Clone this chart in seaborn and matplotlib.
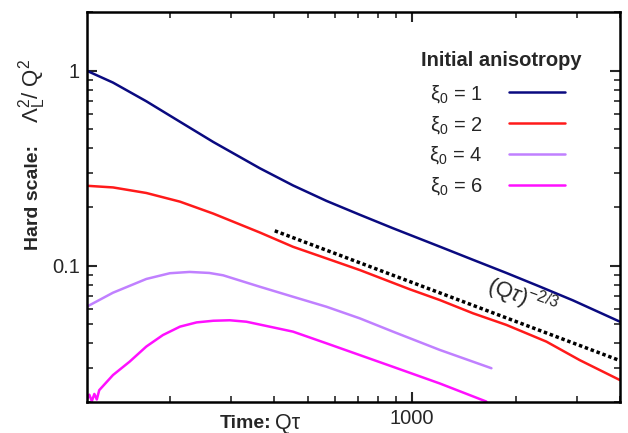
import numpy as np
import pandas as pd
import matplotlib
matplotlib.use("Agg")
import matplotlib.pyplot as plt
import matplotlib.ticker as mticker
import seaborn as sns

# ---- data ----
x_xi1 = [115, 137, 171, 214, 267, 364, 454, 567, 708, 883, 1205, 1504, 1878, 2344, 2925, 4000]
y_xi1 = [1.0, 0.869, 0.697, 0.547, 0.431, 0.316, 0.258, 0.215, 0.1825, 0.1556, 0.1253, 0.1072,
         0.0918, 0.0782, 0.0664, 0.0516]

x_xi2 = [115, 137, 171, 214, 267, 364, 454, 567, 708, 987, 1205, 1504, 1878, 2451, 3059, 4000]
y_xi2 = [0.257, 0.252, 0.236, 0.213, 0.185, 0.148, 0.125, 0.109, 0.095, 0.0757, 0.0667,
         0.057, 0.0497, 0.0408, 0.0328, 0.0259]

x_xi4 = [115, 137, 171, 200, 228, 260, 285, 364, 454, 567, 708, 883, 1205, 1700]
y_xi4 = [0.0616, 0.0727, 0.0855, 0.0915, 0.0929, 0.0918, 0.0893, 0.078, 0.0693, 0.0616, 0.0537,
         0.0459, 0.037, 0.0298]

x_xi6 = [115, 117, 119, 121, 123, 125, 137, 153, 171, 191, 214, 239, 267, 298, 333, 364,
         454, 567, 708, 883, 1205, 1644]
y_xi6 = [0.0205, 0.0218, 0.0202, 0.0220, 0.0206, 0.0230, 0.0275, 0.0322, 0.0385, 0.0441,
         0.0487, 0.0512, 0.0522, 0.0525, 0.0516, 0.0499, 0.0459, 0.040, 0.0348, 0.0303,
         0.0249, 0.0201]

x_ref = [402, 4000]
y_ref = [0.151, 0.0326]

series_labels = ["ξ$_0$ = 1", "ξ$_0$ = 2", "ξ$_0$ = 4", "ξ$_0$ = 6"]
series_colors = ["#0a0a80", "#ff1a1a", "#c080ff", "#ff10ff"]
legend_title = "Initial anisotropy"

x_ticks = [1000]
x_tick_labels = ["1000"]
y_ticks = [0.1, 1]
y_tick_labels = ["0.1", "1"]

# ---- styling ----
sns.set_style("ticks")
plt.rcParams["font.family"] = ["Liberation Sans", "DejaVu Sans"]
plt.rcParams["mathtext.fontset"] = "custom"
plt.rcParams["mathtext.rm"] = "Liberation Sans"
plt.rcParams["mathtext.it"] = "Liberation Sans:italic"
plt.rcParams["mathtext.bf"] = "Liberation Sans:bold"

W, H = 628, 433
fig = plt.figure(figsize=(W / 100, H / 100), dpi=100)
ax_l, ax_r, ax_t, ax_b = 86.7, 620, 12, 402
ax = fig.add_axes([ax_l / W, 1 - ax_b / H, (ax_r - ax_l) / W, (ax_b - ax_t) / H])
ax.set_xscale("log")
ax.set_yscale("log")

def axfrac(px, py):
    return ((px - ax_l) / (ax_r - ax_l), (ax_b - py) / (ax_b - ax_t))

all_x = [x_xi1, x_xi2, x_xi4, x_xi6]
all_y = [y_xi1, y_xi2, y_xi4, y_xi6]
for xs, ys, lab, col in zip(all_x, all_y, series_labels, series_colors):
    df = pd.DataFrame({"x": xs, "y": ys})
    sns.lineplot(data=df, x="x", y="y", ax=ax, color=col, lw=1.8, label=lab,
                 estimator=None, sort=False, legend=False)

df_ref = pd.DataFrame({"x": x_ref, "y": y_ref})
sns.lineplot(data=df_ref, x="x", y="y", ax=ax, color="black", lw=2.5,
             linestyle=(0, (1, 0.8)), estimator=None, legend=False)

ax.text(2093, 0.0691, r"(Q$\tau$)$^{\mathregular{-2/3}}$", rotation=-20, fontsize=16,
        ha="center", va="center")

ax.set_xlim(115, 4000)
ax.set_ylim(0.02, 2.0)

ax.set_xticks(x_ticks, labels=x_tick_labels)
ax.set_yticks(y_ticks, labels=y_tick_labels)
ax.xaxis.set_minor_locator(mticker.LogLocator(base=10, subs=np.arange(2, 10)))
ax.yaxis.set_minor_locator(mticker.LogLocator(base=10, subs=np.arange(2, 10)))
ax.xaxis.set_minor_formatter(mticker.NullFormatter())
ax.yaxis.set_minor_formatter(mticker.NullFormatter())

ax.tick_params(which="both", direction="in", top=True, right=True, labelsize=14.5)
ax.tick_params(which="major", length=7, width=1.5, pad=5)
ax.tick_params(which="minor", length=4, width=1.2)
for sp in ax.spines.values():
    sp.set_linewidth(1.8)
    sp.set_color("black")

ax.set_xlabel("")
ax.set_ylabel("")
# x label: bold "Time:" + normal "Qτ"
fig.text(220 / W, 1 - 423 / H, "Time:", fontsize=14, fontweight="bold",
         ha="left", va="center")
fig.text(275 / W, 1 - 423 / H, "Q\u03c4", fontsize=15.5, ha="left", va="center")
# y label: bold "Hard scale:" + normal Λ_L^2 / Q^2
fig.text(38 / W, 1 - 250 / H, "Hard scale:", fontsize=14, fontweight="bold",
         rotation=90, rotation_mode="anchor", ha="left", va="baseline")
fig.text(38 / W, 1 - 123 / H,
         r"$\Lambda_{\mathregular{L}}^{\mathregular{2}}$/ Q$^{\mathregular{2}}$",
         fontsize=16, rotation=90, rotation_mode="anchor", ha="left", va="baseline")

handles = ax.get_lines()[:4]
ax.legend(handles, series_labels, loc="upper right",
          bbox_to_anchor=axfrac(565, 83), frameon=False, markerfirst=False,
          fontsize=14.5, handlelength=2.8, handletextpad=1.3, labelspacing=0.45,
          borderpad=0, borderaxespad=0)
tx, ty = axfrac(501, 60)
ax.text(tx, ty, legend_title, transform=ax.transAxes, fontsize=14.5,
        fontweight="bold", ha="center", va="center")

fig.savefig("out.png", dpi=100)
